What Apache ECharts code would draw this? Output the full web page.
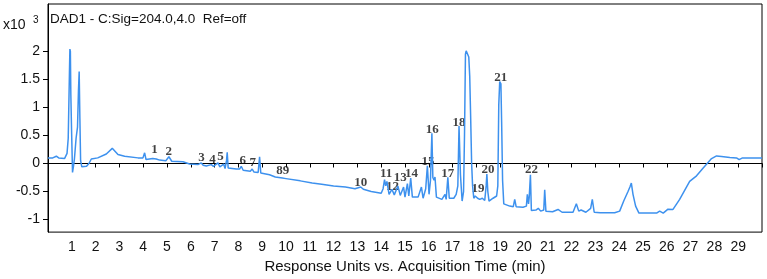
<!DOCTYPE html>
<html><head><meta charset="utf-8">
<script src="https://cdn.jsdelivr.net/npm/echarts@6/dist/echarts.min.js"></script>
<style>html,body{margin:0;padding:0;background:#fff}#c{width:767px;height:279px}</style>
</head><body><div id="c"></div>
<script>
// Retention time (min)
const times = [0.00,0.20,0.35,0.45,0.70,0.80,0.85,0.90,0.92,0.94,0.96,0.99,1.03,1.07,1.11,1.18,1.24,1.28,1.31,1.34,1.37,1.42,1.50,1.62,1.72,1.82,2.09,2.45,2.70,2.94,3.22,3.78,3.99,4.06,4.12,4.40,4.48,4.55,4.69,4.95,5.08,5.20,5.67,5.95,6.30,6.44,6.52,6.65,6.86,6.95,7.14,7.22,7.30,7.38,7.44,7.50,7.53,7.57,7.91,8.05,8.12,8.20,8.50,8.58,8.65,8.83,8.89,8.94,9.31,9.55,9.62,9.70,9.76,9.85,10.0,10.6,11.1,11.5,12.0,12.5,12.9,13.14,13.25,13.58,14.00,14.08,14.14,14.19,14.24,14.33,14.45,14.55,14.70,14.80,14.94,15.00,15.10,15.16,15.24,15.31,15.55,15.69,15.76,15.87,15.94,16.01,16.07,16.13,16.17,16.22,16.26,16.32,16.55,16.68,16.73,16.80,16.86,17.05,17.15,17.22,17.27,17.33,17.40,17.46,17.50,17.54,17.57,17.64,17.68,17.72,17.76,17.80,17.84,17.89,17.95,18.00,18.05,18.14,18.25,18.35,18.41,18.44,18.48,18.53,18.70,18.85,18.90,18.94,18.98,19.03,19.06,19.10,19.15,19.40,19.55,19.61,19.67,19.96,20.10,20.14,20.19,20.22,20.27,20.31,20.50,20.60,20.70,20.83,20.87,20.92,21.20,21.43,21.60,22.06,22.20,22.30,22.40,22.47,22.60,22.80,22.87,22.95,23.20,23.81,24.02,24.19,24.37,24.45,24.51,24.58,24.69,24.83,25.57,25.70,25.85,26.05,26.26,26.54,26.96,27.25,27.52,27.88,28.09,28.30,28.65,28.93,29.04,29.18,30.0];
// Response (x10^3)
const signal = [0.10,0.10,0.13,0.10,0.09,0.18,0.45,1.60,2.04,2.00,1.22,0.60,-0.16,-0.05,0.08,0.45,0.65,1.30,1.64,0.80,0.05,-0.06,-0.07,-0.05,0.00,0.08,0.10,0.17,0.27,0.16,0.13,0.10,0.10,0.19,0.07,0.09,0.12,0.08,0.06,0.05,0.12,0.04,0.03,-0.01,-0.02,0.01,-0.03,-0.045,-0.02,-0.05,0.01,-0.06,-0.07,-0.01,-0.09,0.05,0.20,-0.08,-0.10,-0.10,-0.05,-0.12,-0.14,-0.10,-0.15,-0.16,0.12,-0.17,-0.20,-0.24,-0.22,-0.25,-0.23,-0.26,-0.27,-0.31,-0.35,-0.37,-0.40,-0.42,-0.45,-0.42,-0.46,-0.50,-0.53,-0.45,-0.29,-0.40,-0.32,-0.55,-0.46,-0.56,-0.40,-0.57,-0.42,-0.60,-0.36,-0.58,-0.26,-0.60,-0.60,-0.42,-0.62,-0.45,-0.04,-0.55,-0.30,0.54,-0.25,-0.30,-0.24,-0.60,-0.64,-0.55,-0.64,-0.245,-0.62,-0.62,-0.55,-0.40,0.67,-0.20,-0.67,-0.50,0.50,1.95,2.01,2.00,1.90,1.55,0.80,0.00,-0.40,-0.62,-0.58,-0.55,-0.62,-0.64,-0.62,-0.66,-0.40,-0.19,-0.50,-0.67,-0.62,-0.58,-0.40,1.05,1.46,1.42,0.75,-0.30,-0.72,-0.76,-0.77,-0.64,-0.77,-0.78,-0.76,-0.55,-0.72,-0.60,-0.20,-0.84,-0.83,-0.80,-0.85,-0.83,-0.47,-0.85,-0.86,-0.82,-0.87,-0.87,-0.72,-0.85,-0.83,-0.86,-0.87,-0.80,-0.64,-0.87,-0.88,-0.88,-0.85,-0.67,-0.50,-0.42,-0.35,-0.55,-0.76,-0.885,-0.885,-0.85,-0.885,-0.815,-0.82,-0.64,-0.32,-0.22,-0.087,0.087,0.135,0.125,0.105,0.10,0.07,0.10,0.10];
// Peak annotations
const peakIds = ['1','2','3','4','5','6','7','89','10','11','12','13','14','15','16','17','18','19','20','21','22'];
const peakT = [4.48,5.07,6.45,6.91,7.25,8.18,8.60,9.86,13.14,14.21,14.47,14.80,15.27,15.97,16.15,16.80,17.27,18.07,18.49,19.02,20.31];
const peakV = [0.25,0.22,0.10,0.065,0.13,0.05,0.01,-0.13,-0.34,-0.175,-0.41,-0.245,-0.185,0.03,0.60,-0.175,0.73,-0.455,-0.115,1.53,-0.115];
const yTicks = [-1,-0.5,0,0.5,1,1.5,2];
const xTickLabels = [1,2,3,4,5,6,7,8,9,10,11,12,13,14,15,16,17,18,19,20,21,22,23,24,25,26,27,28,29];

const chart = echarts.init(document.getElementById('c'), null, {renderer:'canvas'});
const sans = 'Liberation Sans, Arial, sans-serif';
chart.setOption({
  animation:false,
  backgroundColor:'#fff',
  grid:{left:48,right:5,top:4,bottom:42,show:true,borderColor:'#000',borderWidth:1,backgroundColor:'transparent'},
  xAxis:{type:'value',min:0,max:30,interval:1,
    name:'Response Units vs. Acquisition Time (min)',nameLocation:'middle',nameGap:25,
    nameTextStyle:{fontFamily:sans,fontSize:15,color:'#111'},
    axisLine:{lineStyle:{color:'#000',width:1}},
    axisTick:{show:true,length:4,lineStyle:{color:'#000'}},
    axisLabel:{customValues:xTickLabels,fontFamily:sans,fontSize:14,color:'#111',margin:8},
    splitLine:{show:false}},
  yAxis:{type:'value',min:-1.224,max:2.845,
    axisLine:{show:true,lineStyle:{color:'#000',width:1}},
    axisTick:{show:true,customValues:yTicks,length:5,lineStyle:{color:'#000'}},
    axisLabel:{customValues:yTicks,fontFamily:sans,fontSize:14,color:'#111',margin:8},
    splitLine:{show:false}},
  graphic:[
    {type:'text',left:3,top:18,style:{text:'x10',font:'14px '+sans,fill:'#111'}},
    {type:'text',left:33,top:15,style:{text:'3',font:'10px '+sans,fill:'#111'}},
    {type:'text',left:50,top:12,style:{text:'DAD1 - C:Sig=204.0,4.0  Ref=off',font:'13.5px '+sans,fill:'#111'}}
  ],
  series:[
    {type:'line',data:times.map((t,i)=>[t,signal[i]]),showSymbol:false,symbol:'none',
     lineStyle:{color:'#3d91ee',width:1.5},silent:true},
    {type:'scatter',data:peakT.map((t,i)=>[t,peakV[i],peakIds[i]]),symbolSize:1,
     itemStyle:{color:'rgba(0,0,0,0)'},silent:true,
     label:{show:true,position:'inside',formatter:p=>p.value[2],
       fontFamily:'Liberation Serif, Times New Roman, serif',fontWeight:'bold',fontSize:13,color:'#111'}}
  ]
});
</script></body></html>
